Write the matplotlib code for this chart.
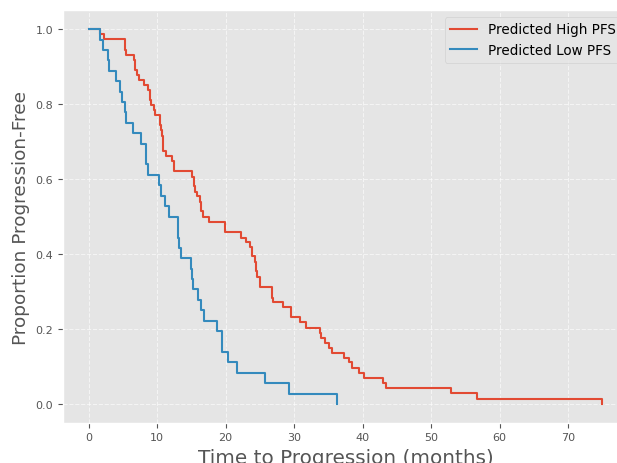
import matplotlib
matplotlib.use("Agg")
import matplotlib.pyplot as plt

plt.style.use("ggplot")

# Kaplan-Meier steps
high_t = [0, 1.7, 2.2, 5.26, 5.5, 6.62, 6.8, 7.06, 7.35, 8.08, 8.67, 8.91, 9.16,
          9.5, 9.65, 10.4, 10.5, 10.7, 10.8, 10.9, 11.3, 12.2, 12.5, 15.15, 15.35,
          15.5, 15.8, 16.2, 16.45, 16.7, 17.6, 19.9, 22.2, 22.95, 23.5, 23.8, 23.9,
          24.3, 24.4, 24.65, 25.0, 26.7, 26.9, 28.4, 29.6, 30.9, 31.7, 33.8, 33.9,
          34.5, 35.1, 35.6, 37.3, 38.0, 38.5, 39.5, 40.2, 43.0, 43.4, 52.9, 56.65,
          75.0]
high_s = [1.0, 0.986, 0.973, 0.945, 0.932, 0.918, 0.892, 0.878, 0.865, 0.851,
          0.838, 0.811, 0.797, 0.784, 0.772, 0.745, 0.731, 0.716, 0.702, 0.675,
          0.662, 0.647, 0.622, 0.606, 0.582, 0.566, 0.554, 0.540, 0.515, 0.500,
          0.486, 0.459, 0.444, 0.433, 0.420, 0.404, 0.394, 0.380, 0.354, 0.340,
          0.313, 0.284, 0.273, 0.258, 0.231, 0.218, 0.204, 0.189, 0.177, 0.163,
          0.150, 0.136, 0.123, 0.111, 0.095, 0.083, 0.069, 0.055, 0.043, 0.0285,
          0.0135, 0.0]

low_t = [0, 1.7, 2.1, 2.8, 3.0, 4.0, 4.6, 4.9, 5.35, 5.5, 6.4, 7.7, 8.4, 8.6,
         10.2, 10.6, 11.1, 11.7, 13.05, 13.2, 13.5, 14.9, 15.1, 15.25, 16.0,
         16.4, 16.85, 18.8, 19.5, 20.4, 21.6, 25.7, 29.2, 36.3]
low_s = [1.0, 0.972, 0.944, 0.917, 0.889, 0.861, 0.833, 0.806, 0.778, 0.750,
         0.722, 0.694, 0.639, 0.611, 0.583, 0.556, 0.528, 0.500, 0.444, 0.417,
         0.389, 0.361, 0.333, 0.306, 0.278, 0.250, 0.222, 0.194, 0.139, 0.111,
         0.083, 0.056, 0.028, 0.0]

fig = plt.figure(figsize=(6.17, 4.64), dpi=100)
fig.patch.set_facecolor("white")
ax = fig.add_axes([0.1021, 0.0867, 0.9157, 0.889])

ax.step(high_t, high_s, where="post", color="#E24A33", lw=1.5, label="Predicted High PFS")
ax.step(low_t, low_s, where="post", color="#348ABD", lw=1.5, label="Predicted Low PFS")

ax.set_xlim(-3.75, 78.75)
ax.set_ylim(-0.05, 1.05)
ax.grid(True, color="white", linestyle="--", linewidth=0.8, alpha=0.6)
ax.tick_params(labelsize=8, colors="#555555")

ax.set_xlabel("Time to Progression (months)", fontsize=14.4, color="#555555")
ax.set_ylabel("Proportion Progression-Free", fontsize=13.3, color="#555555")
ax.legend(loc="upper right", fontsize=9.75)

fig.savefig("out.png", dpi=100)
